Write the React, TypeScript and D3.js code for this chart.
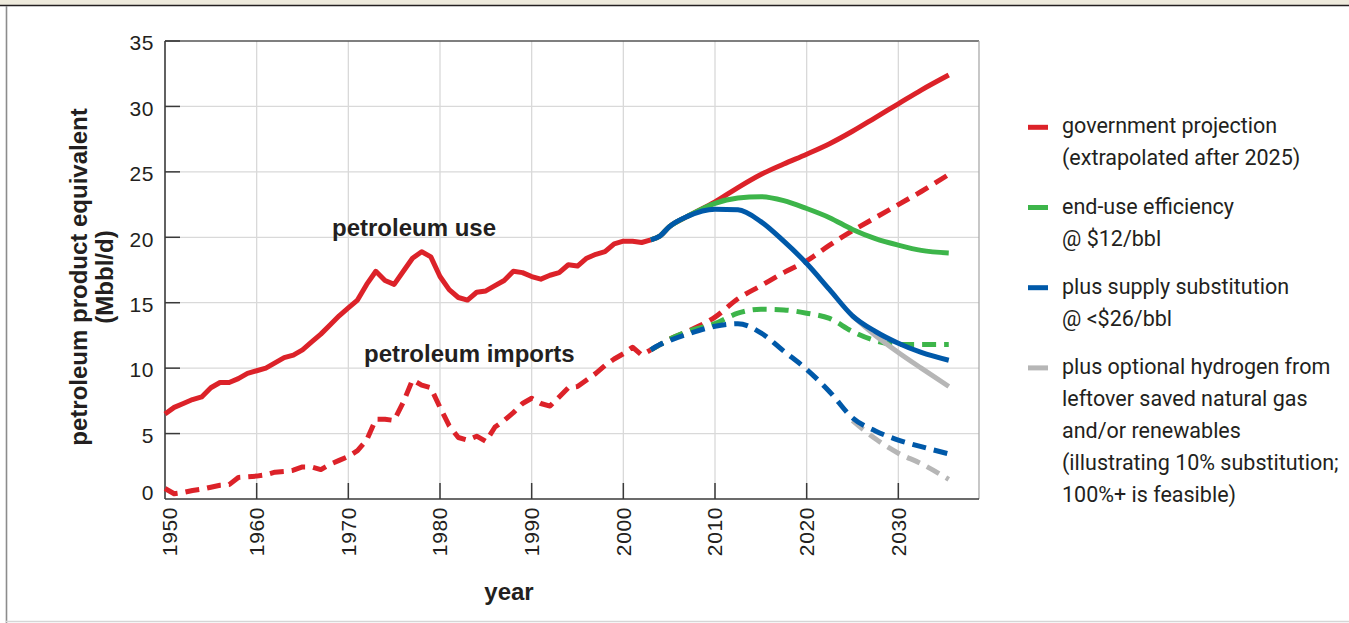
import React from "react";
import * as d3 from "d3";

// ---------- data ----------
const histYears = d3.range(1950, 2004);
const petroleumUse = [
  6.5, 7.0, 7.3, 7.6, 7.8, 8.5, 8.9, 8.9, 9.2, 9.6,
  9.8, 10.0, 10.4, 10.8, 11.0, 11.4, 12.0, 12.6, 13.3, 14.0,
  14.6, 15.2, 16.4, 17.4, 16.7, 16.4, 17.4, 18.4, 18.9, 18.5,
  17.0, 16.0, 15.4, 15.2, 15.8, 15.9, 16.3, 16.7, 17.4, 17.3,
  17.0, 16.8, 17.1, 17.3, 17.9, 17.8, 18.4, 18.7, 18.9, 19.5,
  19.7, 19.7, 19.6, 19.8,
];
const petroleumImports = [
  0.8, 0.4, 0.5, 0.65, 0.75, 0.9, 1.05, 1.1, 1.65, 1.7,
  1.75, 1.85, 2.05, 2.1, 2.2, 2.45, 2.45, 2.25, 2.65, 2.95,
  3.25, 3.7, 4.5, 6.1, 6.1, 6.0, 7.4, 9.1, 8.7, 8.5,
  7.0, 5.6, 4.7, 4.5, 4.8, 4.4, 5.5, 6.0, 6.6, 7.3,
  7.7, 7.3, 7.1, 7.8, 8.5, 8.6, 9.1, 9.6, 10.2, 10.7,
  11.1, 11.6, 11.0, 11.4,
];

const projYears = [2003, 2004, 2005, 2007, 2010, 2012.5, 2015, 2017.5, 2020, 2022.5, 2025, 2027.5, 2030, 2032.5, 2035.5];
const govUse = [19.8, 20.1, 20.8, 21.6, 22.7, 23.8, 24.8, 25.6, 26.35, 27.15, 28.1, 29.15, 30.2, 31.25, 32.4];
const effUse = [19.8, 20.1, 20.8, 21.6, 22.6, 23.0, 23.1, 22.8, 22.2, 21.5, 20.6, 19.9, 19.4, 19.0, 18.8];
const supUse = [19.8, 20.1, 20.8, 21.6, 22.15, 22.1, 21.2, 19.7, 18.0, 16.0, 14.0, 12.8, 11.9, 11.2, 10.6];
const govImports = [11.4, 11.8, 12.2, 12.8, 13.9, 15.3, 16.3, 17.3, 18.2, 19.4, 20.5, 21.5, 22.5, 23.5, 24.8];
const effImports = [11.4, 11.8, 12.2, 12.8, 13.4, 14.2, 14.5, 14.45, 14.2, 13.8, 12.8, 12.1, 11.8, 11.8, 11.8];
const supImports = [11.4, 11.8, 12.1, 12.6, 13.2, 13.4, 12.7, 11.3, 9.9, 8.2, 6.2, 5.2, 4.5, 4.0, 3.45];

const h2Years = [2025, 2027.5, 2030, 2032.5, 2035.5];
const h2Use = [14.0, 12.5, 11.2, 10.0, 8.6];
const h2Imports = [6.0, 4.6, 3.5, 2.7, 1.5];

const yTicks = [0, 5, 10, 15, 20, 25, 30, 35];
const xTicks = [1950, 1960, 1970, 1980, 1990, 2000, 2010, 2020, 2030];

const legendColors = ["#dc2229", "#3db54a", "#0059a9", "#b6b6b6"];
const legendLabels = [
  ["government projection", "(extrapolated after 2025)"],
  ["end-use efficiency", "@ $12/bbl"],
  ["plus supply substitution", "@ <$26/bbl"],
  [
    "plus optional hydrogen from",
    "leftover saved natural gas",
    "and/or renewables",
    "(illustrating 10% substitution;",
    "100%+ is feasible)",
  ],
];

// ---------- component ----------
const W = 1349;
const H = 623;
const TEXT = "#231f20";
const BOLD = "'Liberation Sans', Arial, sans-serif";
const LEG = "Roboto, sans-serif";

export default function App() {
  const x = d3.scaleLinear().domain([1950, 2038.8]).range([165, 979]);
  const y = d3.scaleLinear().domain([0, 35]).range([499, 41]);

  const lin = d3
    .line<[number, number]>()
    .x((d) => x(d[0]))
    .y((d) => y(d[1]))
    .curve(d3.curveLinear);
  const smooth = d3
    .line<[number, number]>()
    .x((d) => x(d[0]))
    .y((d) => y(d[1]))
    .curve(d3.curveMonotoneX);

  const zip = (xs: number[], vs: number[]) => xs.map((v, i) => [v, vs[i]] as [number, number]);

  const [red, green, blue, gray] = legendColors;
  const SW = 5;
  const DASH = "14 8";

  const series = [
    { d: lin(zip(histYears, petroleumUse)), c: red, dash: undefined },
    { d: lin(zip(histYears, petroleumImports)), c: red, dash: DASH },
    { d: smooth(zip(projYears, govUse)), c: red, dash: undefined },
    { d: smooth(zip(projYears, govImports)), c: red, dash: DASH },
    { d: smooth(zip(projYears, effUse)), c: green, dash: undefined },
    { d: smooth(zip(projYears, effImports)), c: green, dash: DASH },
    { d: smooth(zip(h2Years, h2Use)), c: gray, dash: undefined },
    { d: smooth(zip(h2Years, h2Imports)), c: gray, dash: DASH },
    { d: smooth(zip(projYears, supUse)), c: blue, dash: undefined },
    { d: smooth(zip(projYears, supImports)), c: blue, dash: DASH },
  ];

  const [x0, x1] = x.range();
  const [yb, yt] = y.range();

  return (
    <svg
      width={W}
      height={H}
      style={{ position: "absolute", left: 0, top: 0, background: "#fff" }}
    >
      {/* frame */}
      <rect x={0} y={0} width={W} height={5} fill="#eeeadc" />
      <line x1={0} x2={W} y1={5.5} y2={5.5} stroke="#231f20" strokeWidth={1.6} />
      <line x1={6.5} x2={6.5} y1={6} y2={H} stroke="#8c8c8c" strokeWidth={1.6} />
      <line x1={6} x2={W} y1={621.5} y2={621.5} stroke="#d6d6d6" strokeWidth={1.5} />

      {/* grid */}
      {yTicks.slice(1, -1).map((t) => (
        <line key={"gy" + t} x1={x0} x2={x1} y1={y(t)} y2={y(t)} stroke="#d9d9d9" strokeWidth={1.3} />
      ))}
      {xTicks.slice(1).map((t) => (
        <line key={"gx" + t} x1={x(t)} x2={x(t)} y1={yt} y2={yb} stroke="#d9d9d9" strokeWidth={1.3} />
      ))}

      {/* plot border */}
      <line x1={x0} x2={x1} y1={yt} y2={yt} stroke="#555" strokeWidth={1.3} />
      <line x1={x1} x2={x1} y1={yt} y2={yb} stroke="#aaa" strokeWidth={1.3} />
      <line x1={x0} x2={x0} y1={yt} y2={yb} stroke="#3a3a3a" strokeWidth={1.6} />
      <line x1={x0} x2={x1} y1={yb} y2={yb} stroke="#3a3a3a" strokeWidth={1.6} />

      {/* ticks */}
      {yTicks.slice(1).map((t) => (
        <line key={"ty" + t} x1={x0} x2={x0 + 15} y1={y(t)} y2={y(t)} stroke="#3a3a3a" strokeWidth={1.5} />
      ))}
      {xTicks.slice(1).map((t) => (
        <line key={"tx" + t} x1={x(t)} x2={x(t)} y1={yb} y2={yb - 16} stroke="#3a3a3a" strokeWidth={1.5} />
      ))}

      {/* tick labels */}
      {yTicks.map((t) => (
        <text
          key={"ly" + t}
          x={154}
          y={y(t) + (t === 0 ? -6 : 2)}
          dy="0.35em"
          textAnchor="end"
          fontFamily={BOLD}
          fontSize={21}
          letterSpacing={0.6}
          fill={TEXT}
        >
          {t}
        </text>
      ))}
      {xTicks.map((t) => (
        <text
          key={"lx" + t}
          transform={`translate(${x(t) + (t === 1950 ? 5 : 0)},507) rotate(-90)`}
          dy="0.35em"
          textAnchor="end"
          fontFamily={BOLD}
          fontSize={21}
          letterSpacing={0.6}
          fill={TEXT}
        >
          {t}
        </text>
      ))}

      {/* axis titles */}
      <text
        transform="translate(87,277) rotate(-90)"
        textAnchor="middle"
        fontFamily={BOLD}
        fontWeight="bold"
        fontSize={24}
        fill={TEXT}
      >
        petroleum product equivalent
      </text>
      <text
        transform="translate(113,277) rotate(-90)"
        textAnchor="middle"
        fontFamily={BOLD}
        fontWeight="bold"
        fontSize={24}
        fill={TEXT}
      >
        (Mbbl/d)
      </text>
      <text x={509} y={600} textAnchor="middle" fontFamily={BOLD} fontWeight="bold" fontSize={24} fill={TEXT}>
        year
      </text>

      {/* series */}
      {series.map((s, i) => (
        <path
          key={"s" + i}
          d={s.d || ""}
          fill="none"
          stroke={s.c}
          strokeWidth={SW}
          strokeDasharray={s.dash}
          strokeLinejoin="round"
        />
      ))}

      {/* in-chart labels */}
      <text x={332} y={236} fontFamily={BOLD} fontWeight="bold" fontSize={24} fill={TEXT}>
        petroleum use
      </text>
      <text x={364} y={362} fontFamily={BOLD} fontWeight="bold" fontSize={24} fill={TEXT}>
        petroleum imports
      </text>

      {/* legend */}
      {legendLabels.map((lines, i) => {
        const base = 133.3 + i * 80.2;
        return (
          <g key={"leg" + i}>
            <line x1={1028} x2={1048} y1={base - 6} y2={base - 6} stroke={legendColors[i]} strokeWidth={5} />
            {lines.map((ln, j) => (
              <text
                key={j}
                x={1062}
                y={base + j * 32}
                fontFamily={LEG}
                fontSize={21.5}
                fill={TEXT}
              >
                {ln}
              </text>
            ))}
          </g>
        );
      })}
    </svg>
  );
}
